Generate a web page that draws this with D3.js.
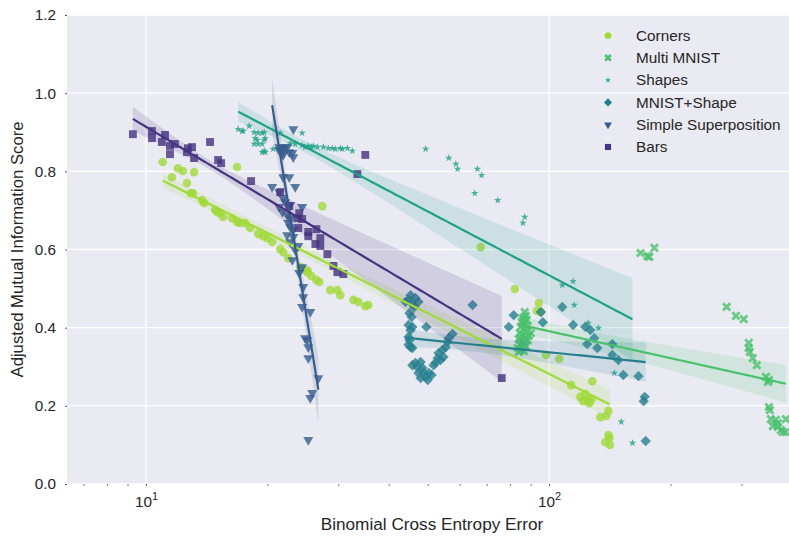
<!DOCTYPE html>
<html>
<head>
<meta charset="utf-8">
<script src="https://cdn.jsdelivr.net/npm/d3@7"></script>
<style>
  body { margin: 0; background: #fff; }
  svg text { font-family: "Liberation Sans", Arial, sans-serif; fill: #262626; }
</style>
</head>
<body>
<svg id="chart" width="789" height="537"></svg>
<script>
// values (error is on a log axis)
const cornersErr = [11.0, 12.0, 12.35, 13.16, 16.83, 11.6, 12.64, 12.93, 13.08, 13.78, 13.94, 14.84, 15.01, 15.27, 15.53,
  16.36, 16.83, 17.12, 17.61, 18.13, 18.98, 19.53, 19.99, 20.56, 21.53, 21.9, 22.54, 24.14, 25.13, 25.13, 25.71, 26.47,
  26.92, 27.38, 28.66, 29.84, 30.35, 32.69, 33.64, 35.0, 35.6, 67.67, 82.2, 94.3, 93.2, 95.4, 98.2, 105.9, 113.4, 128.0,
  119.5, 122.9, 125.0, 127.2, 125.8, 121.5, 140.3, 134.0, 138.6, 140.3, 141.1, 137.8, 141.5];
const cornersAmi = [0.824, 0.808, 0.801, 0.798, 0.811, 0.785, 0.770, 0.744, 0.744, 0.726, 0.719, 0.701, 0.696, 0.693, 0.683,
  0.680, 0.670, 0.668, 0.668, 0.655, 0.640, 0.634, 0.629, 0.619, 0.601, 0.593, 0.578, 0.555, 0.547, 0.542, 0.532, 0.522,
  0.517, 0.711, 0.496, 0.496, 0.483, 0.471, 0.466, 0.455, 0.458, 0.606, 0.499, 0.463, 0.443, 0.440, 0.330, 0.320, 0.253, 0.263,
  0.223, 0.230, 0.215, 0.217, 0.207, 0.212, 0.187, 0.171, 0.174, 0.125, 0.118, 0.107, 0.100];

const multiErr = [87.0, 87.5, 86.1, 88.0, 85.6, 87.0, 88.5, 85.1, 86.6, 88.0, 90.1, 84.6, 86.1, 87.5, 89.1, 84.1, 85.6,
  87.0, 84.6, 86.1, 83.6, 85.1, 86.6, 84.1, 87.5, 88.5, 86.6, 85.1,
  168.5, 175.3, 177.3, 182.5, 275.7, 290.6, 304.0, 312.8, 312.8, 314.6, 320.0, 327.5, 345.0, 350.9, 349.0, 350.9, 352.8,
  354.8, 365.1, 369.3, 375.8, 386.6, 386.6, 369.3, 380.1, 358.9];
const multiAmi = [0.440, 0.430, 0.425, 0.420, 0.414, 0.409, 0.404, 0.402, 0.396, 0.391, 0.386, 0.386, 0.381, 0.376, 0.379,
  0.371, 0.366, 0.361, 0.356, 0.350, 0.348, 0.343, 0.340, 0.338, 0.353, 0.368, 0.420, 0.376,
  0.591, 0.583, 0.581, 0.604, 0.453, 0.430, 0.422, 0.361, 0.348, 0.338, 0.322, 0.304, 0.274, 0.266, 0.261, 0.197, 0.189,
  0.166, 0.164, 0.146, 0.138, 0.133, 0.166, 0.156, 0.133, 0.148];

const shapesErr = [16.93, 17.32, 17.42, 18.03, 18.55, 18.98, 19.42, 19.65, 18.66, 18.87, 19.65, 19.76, 18.55, 18.98, 19.42,
  19.42, 19.65, 19.76, 20.68, 21.53, 24.4, 22.03, 22.8, 23.46, 24.4, 24.83, 25.27, 25.71, 26.0, 26.62, 27.54, 28.34, 29.0,
  29.5, 30.35, 30.7, 31.6, 32.5, 49.4, 56.4, 58.7, 59.3, 66.4, 68.0, 65.4, 74.6, 87.0, 86.1, 114.7, 107.8, 115.4, 125.0,
  132.5, 145.2, 151.0, 161.0];
const shapesAmi = [0.908, 0.903, 0.903, 0.916, 0.900, 0.898, 0.898, 0.900, 0.885, 0.880, 0.880, 0.885, 0.870, 0.870, 0.870,
  0.849, 0.852, 0.849, 0.857, 0.898, 0.898, 0.859, 0.872, 0.870, 0.867, 0.862, 0.865, 0.862, 0.865, 0.862, 0.862, 0.859, 0.859,
  0.857, 0.859, 0.857, 0.859, 0.852, 0.857, 0.834, 0.819, 0.806, 0.806, 0.790, 0.744, 0.726, 0.683, 0.668, 0.519, 0.509, 0.458,
  0.412, 0.399, 0.284, 0.159, 0.105];

const mnistShapeErr = [45.32, 46.6, 47.4, 44.8, 45.8, 44.05, 46.3, 45.05, 45.6, 44.8, 45.8, 45.32, 49.6, 44.8, 45.05, 44.8,
  45.32, 45.8, 64.6, 57.6, 56.3, 56.0, 55.4, 54.4, 53.2, 52.9, 52.3, 51.7, 54.7, 53.8, 45.8, 47.1, 48.0, 48.5, 47.4, 48.8,
  49.4, 48.0, 50.0, 50.3, 51.1, 46.6, 79.4, 81.7, 95.4, 96.5, 107.8, 114.7, 122.9, 126.5, 129.4, 124.3, 131.7, 143.5, 143.5,
  148.5, 152.8, 166.6, 172.6, 171.6, 173.6];
const mnistShapeAmi = [0.483, 0.476, 0.466, 0.471, 0.460, 0.466, 0.453, 0.437, 0.427, 0.407, 0.402, 0.394, 0.402, 0.376, 0.368,
  0.356, 0.350, 0.348, 0.458, 0.384, 0.373, 0.363, 0.350, 0.343, 0.335, 0.322, 0.310, 0.304, 0.325, 0.317, 0.304, 0.299, 0.312,
  0.297, 0.284, 0.286, 0.274, 0.271, 0.266, 0.284, 0.279, 0.310, 0.402, 0.432, 0.440, 0.414, 0.453, 0.407, 0.402, 0.394, 0.373,
  0.358, 0.348, 0.358, 0.330, 0.317, 0.279, 0.276, 0.223, 0.212, 0.110];

const simpleErr = [23.2, 21.4, 21.8, 22.15, 22.4, 21.8, 22.67, 23.07, 23.2, 21.4, 21.9, 21.9, 22.67, 20.56, 23.46, 21.4, 21.9,
  22.15, 22.8, 24.4, 21.4, 21.8, 22.4, 22.8, 22.54, 22.8, 23.2, 22.4, 23.2, 22.8, 23.87, 23.46, 23.07, 24.4, 24.0, 24.55,
  24.55, 24.4, 25.56, 24.83, 25.13, 25.27, 25.27, 26.77, 25.85, 25.56, 25.27];
const simpleAmi = [0.908, 0.862, 0.859, 0.862, 0.862, 0.847, 0.849, 0.847, 0.836, 0.854, 0.842, 0.785, 0.785, 0.760, 0.760,
  0.747, 0.732, 0.721, 0.714, 0.709, 0.709, 0.696, 0.688, 0.680, 0.668, 0.657, 0.650, 0.637, 0.632, 0.619, 0.609, 0.599, 0.573,
  0.555, 0.540, 0.504, 0.478, 0.453, 0.440, 0.373, 0.368, 0.350, 0.322, 0.271, 0.233, 0.220, 0.113];

const barsErr = [9.28, 10.35, 10.35, 10.95, 11.15, 11.47, 11.8, 11.47, 12.64, 12.71, 13.01, 13.16, 14.42, 15.1, 15.36, 18.23,
  21.53, 35.0, 33.45, 22.67, 23.73, 24.0, 24.4, 23.87, 25.27, 25.27, 26.47, 27.07, 27.07, 26.32, 28.18, 29.18, 29.84, 30.88, 76.3];
const barsAmi = [0.895, 0.903, 0.885, 0.875, 0.893, 0.865, 0.870, 0.844, 0.849, 0.859, 0.862, 0.834, 0.875, 0.829, 0.821, 0.775,
  0.747, 0.842, 0.793, 0.711, 0.680, 0.693, 0.678, 0.655, 0.645, 0.634, 0.652, 0.629, 0.609, 0.614, 0.588, 0.558, 0.542, 0.537, 0.271];

const seriesNames = ['Corners', 'Multi MNIST', 'Shapes', 'MNIST+Shape', 'Simple Superposition', 'Bars'];
const yTicks = [0.0, 0.2, 0.4, 0.6, 0.8, 1.0, 1.2];
const xMajorTicks = [10, 100];
const xMinorTicks = [7, 8, 9, 20, 30, 40, 50, 60, 70, 80, 90, 200, 300];

// styling
const colors = ['#a0da39', '#4ac16d', '#1fa187', '#277f8e', '#365c8d', '#46327e'];
const markers = ['circle', 'x', 'star', 'diamond', 'triangle', 'square'];

const series = seriesNames.map((name, i) => {
  const errs = [cornersErr, multiErr, shapesErr, mnistShapeErr, simpleErr, barsErr][i];
  const amis = [cornersAmi, multiAmi, shapesAmi, mnistShapeAmi, simpleAmi, barsAmi][i];
  return { name, color: colors[i], marker: markers[i], points: errs.map((e, j) => ({ err: e, ami: amis[j] })) };
});

const W = 789, H = 537;
const margin = { top: 15, right: 0, bottom: 53, left: 67 };

const svg = d3.select('#chart');

const x = d3.scaleLog().domain([6.37, 393.6]).range([margin.left, W - margin.right]);
const y = d3.scaleLinear().domain([0, 1.2]).range([H - margin.bottom, margin.top]);

// background + grid
svg.append('rect')
  .attr('x', margin.left).attr('y', margin.top)
  .attr('width', W - margin.left - margin.right).attr('height', H - margin.top - margin.bottom)
  .attr('fill', '#eaeaf2');

svg.append('defs').append('clipPath').attr('id', 'plot-clip')
  .append('rect')
  .attr('x', margin.left).attr('y', margin.top)
  .attr('width', W - margin.left - margin.right).attr('height', H - margin.top - margin.bottom);

const grid = svg.append('g');
grid.selectAll('.gy').data(yTicks).enter().append('line')
  .attr('x1', margin.left).attr('x2', W - margin.right)
  .attr('y1', d => y(d)).attr('y2', d => y(d))
  .attr('stroke', '#fff').attr('stroke-width', 1.3);
grid.selectAll('.gx').data(xMajorTicks).enter().append('line')
  .attr('x1', d => x(d)).attr('x2', d => x(d))
  .attr('y1', margin.top).attr('y2', H - margin.bottom)
  .attr('stroke', '#fff').attr('stroke-width', 1.3);

// axes
const xAxis = d3.axisBottom(x).tickValues(xMajorTicks).tickSize(2).tickFormat('');
const gx = svg.append('g').attr('transform', `translate(0,${H - margin.bottom})`).call(xAxis);
gx.select('.domain').remove();
gx.selectAll('line').attr('stroke', '#555');
gx.selectAll('.tick').append('text')
  .attr('y', 23).attr('text-anchor', 'middle').attr('font-size', 15.3)
  .text('10')
  .append('tspan').attr('dy', -7).attr('font-size', 11)
  .text(d => Math.round(Math.log10(d)));

const xMinor = d3.axisBottom(x).tickValues(xMinorTicks).tickSize(2).tickFormat('');
const gxm = svg.append('g').attr('transform', `translate(0,${H - margin.bottom})`).call(xMinor);
gxm.select('.domain').remove();
gxm.selectAll('line').attr('stroke', '#777');

const yAxis = d3.axisLeft(y).tickValues(yTicks).tickSize(2).tickPadding(9).tickFormat(d3.format('.1f'));
const gy = svg.append('g').attr('transform', `translate(${margin.left},0)`).call(yAxis);
gy.select('.domain').remove();
gy.selectAll('line').attr('stroke', '#555');
gy.selectAll('text').attr('font-size', 15.3).attr('font-family', null);

svg.append('text')
  .attr('x', 432).attr('y', 530)
  .attr('text-anchor', 'middle').attr('font-size', 17.2)
  .text('Binomial Cross Entropy Error');

svg.append('text')
  .attr('transform', `translate(23,${(margin.top + H - margin.bottom) / 2}) rotate(-90)`)
  .attr('text-anchor', 'middle').attr('font-size', 16.7)
  .text('Adjusted Mutual Information Score');

// marker shapes
function markerPath(type, scale) {
  const s = scale || 1;
  if (type === 'x') {
    const a = 3.6 * s;
    return `M${-a},${-a}L${a},${a}M${-a},${a}L${a},${-a}`;
  }
  if (type === 'circle') return d3.symbol().type(d3.symbolCircle).size(58 * s * s)();
  if (type === 'star') return d3.symbol().type(d3.symbolStar).size(18 * s * s)();
  if (type === 'diamond') return d3.symbol().type(d3.symbolSquare).size(54 * s * s)();
  if (type === 'triangle') return d3.symbol().type(d3.symbolTriangle).size(44 * s * s)();
  return d3.symbol().type(d3.symbolSquare).size(62 * s * s)();
}
function markerRotate(type) {
  if (type === 'diamond') return 45;
  if (type === 'triangle') return 180;
  return 0;
}

// linear fit of AMI on log10(error); 95% band from a robust (sandwich) error,
// which behaves like the bootstrap band seaborn draws
function regression(points) {
  const u = points.map(p => Math.log10(p.err));
  const v = points.map(p => p.ami);
  const n = u.length;
  const ub = d3.mean(u), vb = d3.mean(v);
  let suu = 0, suv = 0;
  for (let i = 0; i < n; i++) { suu += (u[i] - ub) ** 2; suv += (u[i] - ub) * (v[i] - vb); }
  const b = suv / suu, a = vb - b * ub;
  let m0 = 0, m1 = 0, m2 = 0;
  for (let i = 0; i < n; i++) {
    const c = u[i] - ub;
    const e2 = (v[i] - a - b * u[i]) ** 2;
    m0 += e2; m1 += c * e2; m2 += c * c * e2;
  }
  const k = n / (n - 2);
  const varMean = k * m0 / (n * n);
  const varSlope = k * m2 / (suu * suu);
  const cov = k * m1 / (n * suu);
  const [u0, u1] = d3.extent(u);
  return d3.range(101).map(j => {
    const uu = u0 + (u1 - u0) * j / 100;
    const d = uu - ub;
    const fitv = a + b * uu;
    const half = 1.96 * Math.sqrt(Math.max(0, varMean + d * d * varSlope + 2 * d * cov));
    return { err: Math.pow(10, uu), fit: fitv, lo: fitv - half, hi: fitv + half };
  });
}

const plot = svg.append('g').attr('clip-path', 'url(#plot-clip)');
const lineLayer = svg.append('g').attr('clip-path', 'url(#plot-clip)');

series.forEach(sr => {
  const g = plot.append('g');
  const path = markerPath(sr.marker);
  const rot = markerRotate(sr.marker);
  const pts = g.selectAll('path').data(sr.points).enter().append('path')
    .attr('d', path)
    .attr('transform', d => `translate(${x(d.err)},${y(d.ami)}) rotate(${rot})`)
    .attr('opacity', 0.8);
  if (sr.marker === 'x') {
    pts.attr('fill', 'none').attr('stroke', sr.color).attr('stroke-width', 2.8);
  } else {
    pts.attr('fill', sr.color);
  }

  const fitData = regression(sr.points);
  g.append('path').datum(fitData)
    .attr('d', d3.area().x(d => x(d.err)).y0(d => y(d.lo)).y1(d => y(d.hi)))
    .attr('fill', sr.color).attr('fill-opacity', 0.15);

  lineLayer.append('path').datum(fitData)
    .attr('d', d3.line().x(d => x(d.err)).y(d => y(d.fit)))
    .attr('fill', 'none').attr('stroke', sr.color).attr('stroke-width', 2.2);
});

// legend
const legend = svg.append('g').attr('transform', 'translate(608,35.5)');
const rows = legend.selectAll('g').data(series).enter().append('g')
  .attr('transform', (d, i) => `translate(0,${i * 22.3})`);
rows.append('path')
  .attr('d', d => markerPath(d.marker, 0.78))
  .attr('transform', d => `rotate(${markerRotate(d.marker)})`)
  .attr('fill', d => d.marker === 'x' ? 'none' : d.color)
  .attr('stroke', d => d.marker === 'x' ? d.color : 'none')
  .attr('stroke-width', 2.6);
rows.append('text')
  .attr('x', 28).attr('dy', '0.35em').attr('font-size', 15.3)
  .text(d => d.name);
</script>
</body>
</html>
